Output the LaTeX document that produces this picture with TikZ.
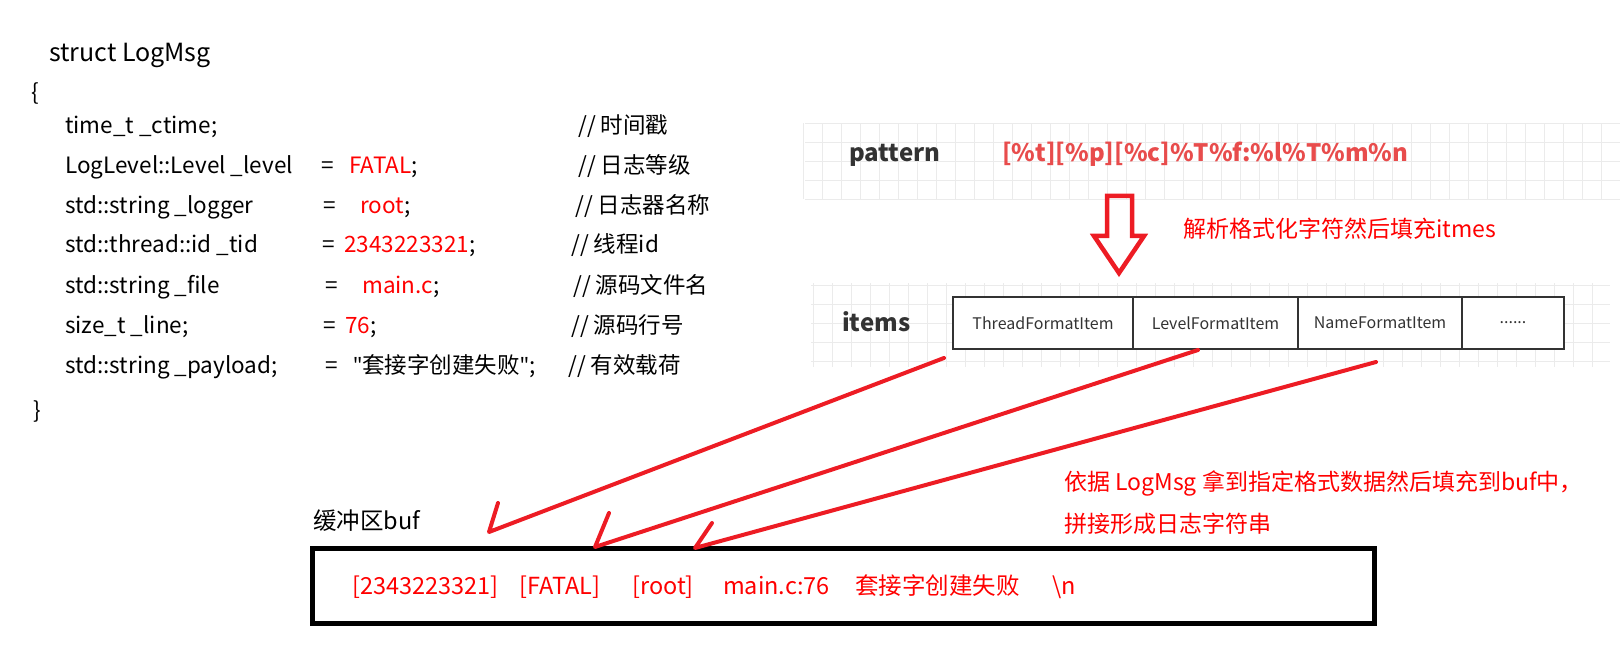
\documentclass[tikz,border=0pt]{standalone}
\usepackage{fontspec}
\setmainfont{Noto Sans CJK SC}
\newfontfamily\latfont{Noto Sans}
\usetikzlibrary{positioning}
\definecolor{ValRed}{HTML}{FF0000}
\definecolor{PatRed}{HTML}{E84C4C}
\definecolor{PenRed}{HTML}{ED1C24}
\definecolor{Ink}{HTML}{333333}
\definecolor{GridLine}{HTML}{EBEBEB}
\newcommand{\eqv}[1]{\makebox[#1][l]{=}}
\newcommand{\sq}{{\latfont"}}

\begin{document}
\begin{tikzpicture}[x=1pt,y=-1pt,
  code/.style={anchor=base west,inner sep=0pt,font=\fontsize{22.5}{26}\selectfont},
  tag/.style={anchor=base west,inner sep=0pt,text=Ink,font=\fontsize{24}{28}\selectfont\bfseries},
  note/.style={anchor=base west,inner sep=0pt,text=ValRed,font=\fontsize{23}{27}\selectfont},
  item/.style={draw=Ink,fill=white,line width=1.6pt,outer sep=0pt,minimum height=52pt,text=Ink,font=\fontsize{16}{19}\selectfont},
  pen/.style={draw=PenRed,line width=4pt,line cap=round,line join=round}]
\useasboundingbox (0,0) rectangle (1620,655);

% background grids
\foreach \gx in {0,...,42} \draw[GridLine] ({803+19*\gx},123) -- ++(0,76);
\foreach \gy in {0,...,4} \draw[GridLine] (805,{123+19*\gy}) -- (1620,{123+19*\gy});
\foreach \gx in {0,...,41} \draw[GridLine] ({813+19*\gx},283) -- ++(0,84);
\foreach \gy in {0,...,4} \draw[GridLine] (811,{285+19*\gy}) -- (1610,{285+19*\gy});

% struct LogMsg
\node[code,font=\fontsize{25}{29}\selectfont] (head) at (49,62) {struct LogMsg};
\node[code] (lbr) at (31,101) {\{};
\node[code] (f1) at (65,134) {time\_t \_ctime;};
\node[code] (c1) at (578,134) {// 时间戳};
\node[code] (f2) at (65,174) {LogLevel::Level \_level};
\node[code] (v2) at (321,174) {\eqv{28pt}\textcolor{ValRed}{FATAL};};
\node[code] (c2) at (578,174) {// 日志等级};
\node[code] (f3) at (65,214) {std::string \_logger};
\node[code] (v3) at (323,214) {\eqv{37pt}\textcolor{ValRed}{root};};
\node[code] (c3) at (575,214) {// 日志器名称};
\node[code] (f4) at (65,253) {std::thread::id \_tid};
\node[code] (v4) at (322,253) {\eqv{22pt}\textcolor{ValRed}{2343223321};};
\node[code] (c4) at (571,253) {// 线程id};
\node[code] (f5) at (65,293) {std::string \_file};
\node[code] (v5) at (325,293) {\eqv{37pt}\textcolor{ValRed}{main.c};};
\node[code] (c5) at (573,293) {// 源码文件名};
\node[code] (f6) at (65,333) {size\_t \_line;};
\node[code] (v6) at (323,333) {\eqv{22pt}\textcolor{ValRed}{76};};
\node[code] (c6) at (571,333) {// 源码行号};
\node[code] (f7) at (65,373) {std::string \_payload;};
\node[code] (v7) at (325,373) {\eqv{28pt}\sq 套接字创建失败\sq;};
\node[code] (c7) at (568,373) {// 有效载荷};
\node[code] (rbr) at (33,418) {\}};

% pattern and items
\node[tag] (pat) at (849,162) {pattern};
\node[tag,text=PatRed] (fmt) at (1002,162) {[\%t][\%p][\%c]\%T\%f:\%l\%T\%m\%n};
\draw[PenRed,line width=4.5pt] (1107,196) -- (1132,196) -- (1132,236) -- (1144,236)
  -- (1119,273) -- (1094,236) -- (1107,236) -- cycle;
\node[note] (parse) at (1183,237) {解析格式化字符然后填充itmes};
\node[tag] (its) at (842,331) {items};
\node[item,minimum width=180pt] (thr) at (1043,323) {ThreadFormatItem};
\node[item,minimum width=165pt,right=0pt of thr] (lvl) {LevelFormatItem};
\node[item,minimum width=164pt,right=0pt of lvl] (nam) {NameFormatItem};
\node[item,minimum width=102pt,right=0pt of nam] (more) {......};

% buffer
\node[code,font=\fontsize{23.5}{27}\selectfont] (buflab) at (313,529) {缓冲区buf};
\node[draw=black,line width=5pt,minimum width=1062pt,minimum height=75pt] (buf) at (843,585.5) {};
\node[note,font=\fontsize{23.5}{27}\selectfont] (bufline) at (352,594) {\makebox[167pt][l]{[2343223321]}\makebox[113pt][l]{[FATAL]}%
  \makebox[91pt][l]{[root]}\makebox[132pt][l]{main.c:76}\makebox[197pt][l]{套接字创建失败}\textbackslash n};
\node[note] (fill1) at (1064,490) {依据 LogMsg 拿到指定格式数据然后填充到buf中，};
\node[note] (fill2) at (1064,532) {拼接形成日志字符串};

% pen arrows
\coordinate (s1) at (944,358);
\coordinate (t1) at (489,532);
\coordinate (b1) at (498,503);
\coordinate (s2) at (1198,350);
\coordinate (t2) at (595,547);
\coordinate (b2) at (609,513);
\coordinate (s3) at (1376,362);
\coordinate (t3) at (695,548);
\coordinate (b3) at (712,523);
\draw[pen] (s1) -- (t1) -- (b1);
\draw[pen] (s2) -- (t2) -- (b2);
\draw[pen] (s3) -- (t3) -- (b3);
\end{tikzpicture}
\end{document}
